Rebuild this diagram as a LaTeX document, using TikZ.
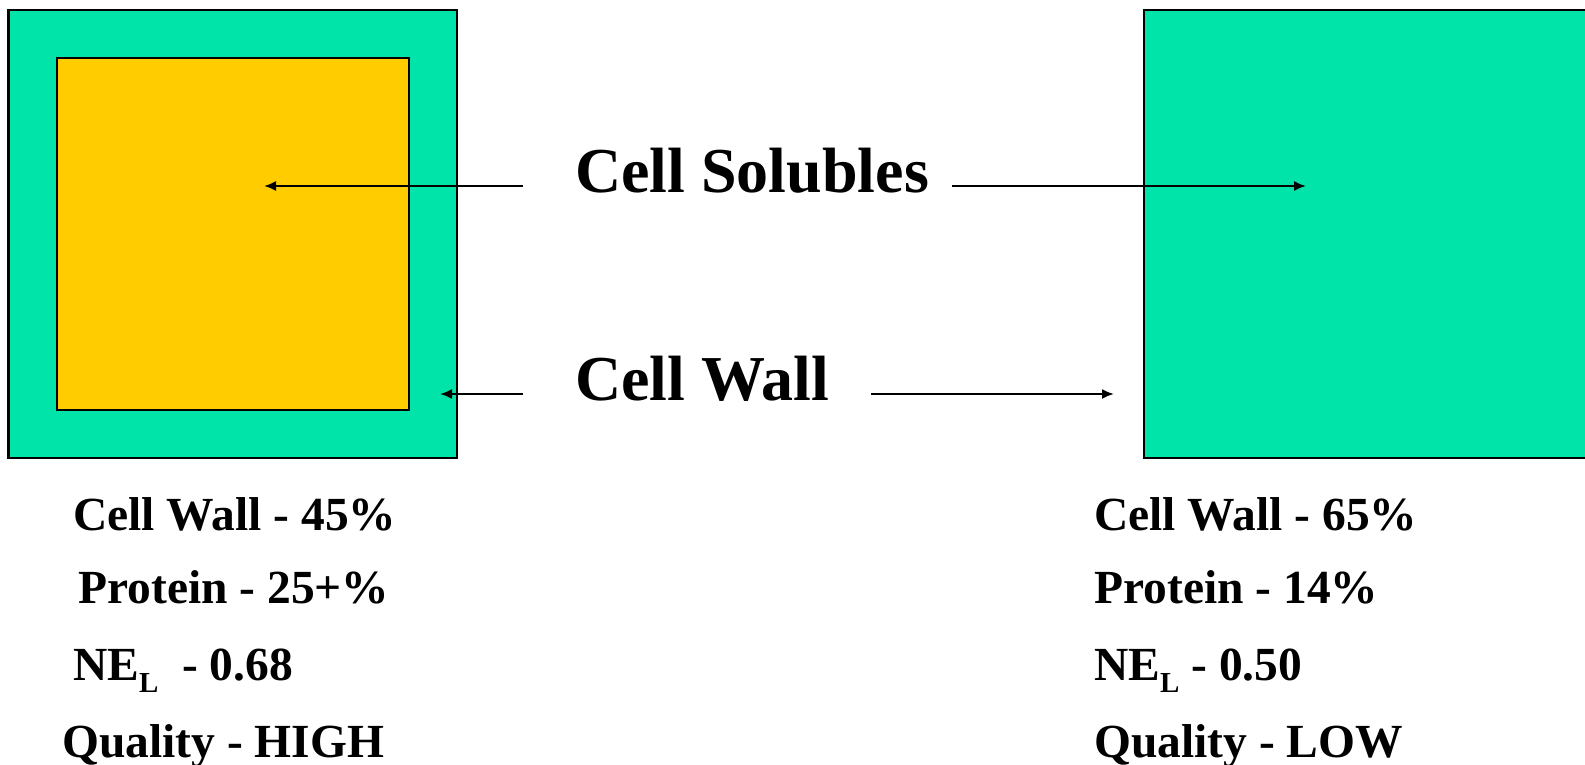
\documentclass[tikz,border=0pt]{standalone}
\usepackage{fontspec}
\setmainfont{Liberation Serif}
\usetikzlibrary{arrows.meta}
\definecolor{wallgreen}{RGB}{0,228,170}
\definecolor{soluyellow}{RGB}{255,204,0}
\begin{document}
\begin{tikzpicture}[x=1pt,y=-1pt,
  boxline/.style={draw=black,line width=2.8pt},
  ptr/.style={line width=2pt,-{Latex[length=12pt,width=10pt]}},
  biglabel/.style={anchor=base west,inner sep=0pt,font=\bfseries\fontsize{64}{70}\selectfont},
  stat/.style={anchor=base west,inner sep=0pt,font=\bfseries\fontsize{47.5}{52}\selectfont}]
\useasboundingbox (0,0) rectangle (1585,765);
\clip (0,0) rectangle (1585,765);
% left cell
\draw[boxline,fill=wallgreen] (8.5,10) rectangle (457,458);
\draw[boxline,fill=soluyellow] (57,58) rectangle (409,410);
% right cell
\draw[boxline,fill=wallgreen] (1144,10) rectangle (1620,458);
% labels
\node[biglabel] (sol) at (575,193) {Cell Solubles};
\node[biglabel] (wall) at (575,400) {Cell Wall};
% connector coordinates
\coordinate (s1) at (523,186);
\coordinate (s1t) at (264,186);
\coordinate (s2) at (952,186);
\coordinate (s2t) at (1306,186);
\coordinate (w1) at (523,394);
\coordinate (w1t) at (440,394);
\coordinate (w2) at (871,394);
\coordinate (w2t) at (1114,394);
\draw[ptr] (s1) -- (s1t);
\draw[ptr] (s2) -- (s2t);
\draw[ptr] (w1) -- (w1t);
\draw[ptr] (w2) -- (w2t);
% left stats
\node[stat] (l1) at (73,530) {Cell Wall - 45\%};
\node[stat] (l2) at (78,603) {Protein - 25+\%};
\node[stat] (l3) at (73,680) {NE\raisebox{-12pt}{\fontsize{29}{30}\selectfont L}\ \ - 0.68};
\node[stat] (l4) at (62,757) {Quality - HIGH};
% right stats
\node[stat] (r1) at (1094,530) {Cell Wall - 65\%};
\node[stat] (r2) at (1094,603) {Protein - 14\%};
\node[stat] (r3) at (1094,680) {NE\raisebox{-12pt}{\fontsize{29}{30}\selectfont L} - 0.50};
\node[stat] (r4) at (1094,757) {Quality - LOW};
\end{tikzpicture}
\end{document}
